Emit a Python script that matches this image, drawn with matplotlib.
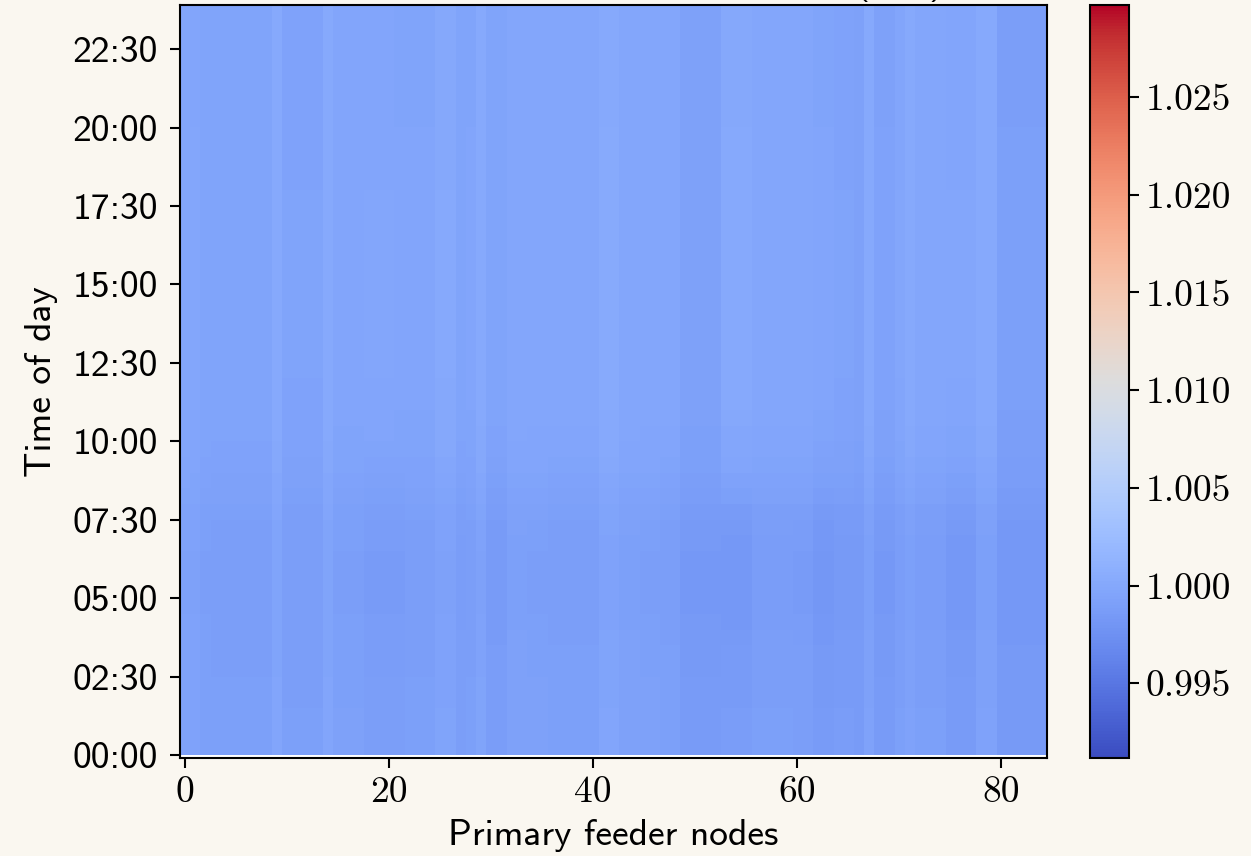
import numpy as np
import matplotlib
matplotlib.use("Agg")
import matplotlib.pyplot as plt

# voltage (p.u.) per primary feeder node during the day (12:00-23:30)
node_day = [
    0.9999, 0.9998, 0.9996, 0.9996, 0.9996, 0.9996, 0.9996, 0.9996, 0.9996, 1.0002,
    0.9995, 0.9995, 0.9995, 0.9995, 1.0002, 0.9997, 0.9997, 0.9997, 0.9998, 0.9998,
    0.9998, 0.9997, 0.9997, 0.9997, 0.9997, 1.0001, 1.0001, 0.9996, 0.9997, 1.0002,
    0.9996, 0.9996, 0.9999, 0.9999, 0.9999, 0.9999, 0.9999, 0.9999, 0.9999, 0.9999,
    0.9999, 1.0003, 1.0003, 0.9999, 0.9999, 0.9999, 0.9999, 0.9999, 0.9999, 0.9993,
    0.9993, 0.9993, 0.9993, 1.0002, 1.0002, 1.0002, 0.9999, 0.9999, 0.9999, 0.9999,
    0.9999, 0.9999, 0.9997, 0.9997, 0.9995, 0.9995, 0.9993, 1.0002, 0.9994, 0.9994,
    0.9998, 1.0002, 0.9999, 0.9999, 0.9999, 0.9998, 0.9998, 0.9998, 1.0002, 1.0002,
    0.9991, 0.9991, 0.9991, 0.9991, 0.9991,
]

# voltage (p.u.) per node at the early-morning low (05:00-07:00)
node_night = [
    0.9993, 0.9993, 0.9990, 0.9989, 0.9989, 0.9989, 0.9989, 0.9989, 0.9989, 0.9995,
    0.9989, 0.9989, 0.9989, 0.9989, 0.9995, 0.9990, 0.9990, 0.9990, 0.9987, 0.9987,
    0.9987, 0.9987, 0.9989, 0.9989, 0.9989, 0.9993, 0.9993, 0.9988, 0.9989, 0.9993,
    0.9986, 0.9986, 0.9991, 0.9991, 0.9990, 0.9990, 0.9989, 0.9989, 0.9989, 0.9989,
    0.9989, 0.9994, 0.9994, 0.9991, 0.9991, 0.9990, 0.9990, 0.9989, 0.9989, 0.9984,
    0.9984, 0.9984, 0.9984, 0.9983, 0.9983, 0.9983, 0.9988, 0.9988, 0.9988, 0.9988,
    0.9987, 0.9987, 0.9982, 0.9982, 0.9985, 0.9985, 0.9985, 0.9991, 0.9984, 0.9984,
    0.9988, 0.9991, 0.9988, 0.9988, 0.9988, 0.9983, 0.9983, 0.9983, 0.9991, 0.9991,
    0.9983, 0.9983, 0.9983, 0.9983, 0.9983,
]

# share of the morning low present in each half-hour slot (00:00 ... 23:30)
night_weight = [
    0.75, 0.75, 0.75, 0.80, 0.80, 0.85, 0.85, 0.90, 0.95, 1.00,
    1.00, 1.00, 1.00, 0.95, 0.90, 0.80, 0.60, 0.45, 0.30, 0.20,
    0.15, 0.10, 0.05, 0.05, 0.00, 0.00, 0.00, 0.00, 0.00, 0.00,
    0.00, 0.00, 0.00, 0.00, 0.00, 0.00, 0.05, 0.05, 0.05, 0.05,
    0.10, 0.10, 0.10, 0.10, 0.10, 0.10, 0.10, 0.10,
]

time_ticks = [0, 2.5, 5, 7.5, 10, 12.5, 15, 17.5, 20, 22.5]
time_labels = ["00:00", "02:30", "05:00", "07:30", "10:00",
               "12:30", "15:00", "17:30", "20:00", "22:30"]
node_ticks = [0, 20, 40, 60, 80]
cbar_ticks = [0.995, 1.000, 1.005, 1.010, 1.015, 1.020, 1.025]

day = np.array(node_day)
night = np.array(node_night)
w = np.array(night_weight)[:, None]
grid = day[None, :] + w * (night - day)[None, :]

bg = "#faf7f0"
plt.rcParams["axes.unicode_minus"] = False

fig = plt.figure(figsize=(12.51, 8.56), dpi=100, facecolor=bg)
ax = fig.add_axes([0.1439, 0.115, 0.6931, 0.879])
cax = fig.add_axes([0.8713, 0.115, 0.0312, 0.879])
ax.set_facecolor("white")

im = ax.imshow(grid, origin="lower", aspect="auto", cmap="coolwarm",
               vmin=0.9912, vmax=1.0297, interpolation="nearest",
               extent=[-0.5, len(node_day) - 0.5, 0, 24])
ax.set_xlim(-0.5, len(node_day) - 0.5)
ax.set_ylim(-0.08, 23.9)

ax.set_xticks(node_ticks)
ax.set_xticklabels([str(v) for v in node_ticks], fontfamily="cmr10", fontsize=27)
ax.set_yticks(time_ticks)
ax.set_yticklabels(time_labels, fontfamily="cmss10", fontsize=27)
ax.tick_params(axis="x", length=7, width=1.5, pad=6)
ax.tick_params(axis="y", length=7, width=1.5, pad=9)
for s in ax.spines.values():
    s.set_linewidth(1.5)

ax.set_xlabel("Primary feeder nodes", fontfamily="cmss10", fontsize=27, labelpad=7)
ax.set_ylabel("Time of day", fontfamily="cmss10", fontsize=27, labelpad=10)
# title sits mostly above the canvas, as in the source figure
ax.set_title("Primary feeder node voltages (p.u.)", fontfamily="cmss10",
             fontsize=27, pad=8.6, x=0.56)

cb = fig.colorbar(im, cax=cax)
cb.set_ticks(cbar_ticks)
cb.set_ticklabels(["%.3f" % v for v in cbar_ticks])
for lab in cax.get_yticklabels():
    lab.set_fontfamily("cmr10")
    lab.set_fontsize(27)
cax.tick_params(length=7, width=1.5, pad=5)
cb.outline.set_linewidth(1.5)

fig.savefig("out.png", dpi=100, facecolor=bg)
